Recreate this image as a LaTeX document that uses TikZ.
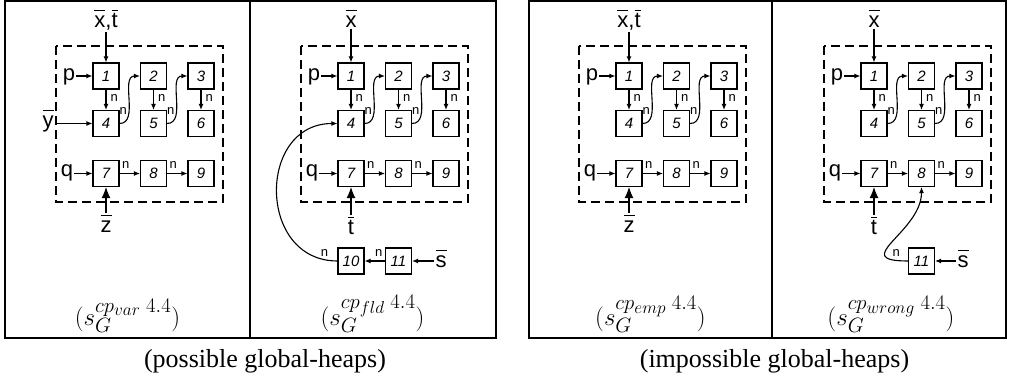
\documentclass[tikz,border=0pt]{standalone}
\usepackage{fontspec}
\newfontfamily\arialf{Liberation Sans}
\newfontfamily\timesf{Liberation Serif}
\usetikzlibrary{arrows.meta}
\DeclareMathSizes{27}{27}{20}{16}

\tikzset{
  cell/.style={draw, line width=1.1pt, minimum size=26pt, inner sep=0pt,
    font=\arialf\fontsize{15}{15}\selectfont\itshape},
  lbl/.style={inner sep=1pt, anchor=base, font=\arialf\fontsize{22}{22}\selectfont},
  nlbl/.style={inner sep=1pt, font=\arialf\fontsize{13}{13}\selectfont},
  ar/.style={-{Latex[length=6pt,width=5pt]}, line width=1.1pt},
  bigar/.style={-{Latex[length=11pt,width=9pt]}, line width=1.1pt},
  region/.style={line width=2.5pt, dash pattern=on 9pt off 5pt},
  panel/.style={line width=2pt},
  pcap/.style={anchor=base, font=\fontsize{27}{32}\selectfont},
  bigcap/.style={anchor=base, font=\timesf\fontsize{26}{30}\selectfont},
}
\newcommand\ovl[1]{\leavevmode\vbox{\hrule height 1.6pt\kern 2.5pt\hbox{#1\vphantom{t}}}}

% the nine cells shared by all four heaps
\newcommand\heapcells[1]{%
  \draw[region] (56,46) rectangle (223,202);
  \node[cell] (#1c1) at (106,76) {1};
  \node[cell] (#1c2) at (153.5,76) {2};
  \node[cell] (#1c3) at (201,76) {3};
  \node[cell] (#1c4) at (106,123.5) {4};
  \node[cell] (#1c5) at (153.5,123.5) {5};
  \node[cell] (#1c6) at (201,123.5) {6};
  \node[cell] (#1c7) at (106,173.5) {7};
  \node[cell] (#1c8) at (153.5,173.5) {8};
  \node[cell] (#1c9) at (201,173.5) {9};
  \node[lbl] (#1p) at (69,81) {p};
  \node[lbl] (#1q) at (67,177) {q};
  \draw[ar] (#1p.east |- #1c1) -- (#1c1);
  \draw[ar] (#1q.east |- #1c7) -- (#1c7);
  \draw[ar] (#1c1) -- node[nlbl, right=3pt, pos=0.4]{n} (#1c4);
  \draw[ar] (#1c2) -- node[nlbl, right=3pt, pos=0.4]{n} (#1c5);
  \draw[ar] (#1c3) -- node[nlbl, right=3pt, pos=0.4]{n} (#1c6);
  \draw[ar] (#1c4.east) to[out=0,in=180] node[nlbl, pos=0.25, above left]{n} (#1c2.west);
  \draw[ar] (#1c5.east) to[out=0,in=180] node[nlbl, pos=0.25, above left]{n} (#1c3.west);
  \draw[ar] (#1c7) -- node[nlbl, above=3pt, pos=0.3]{n} (#1c8);
  \draw[ar] (#1c8) -- node[nlbl, above=3pt, pos=0.3]{n} (#1c9);
}

\begin{document}
\begin{tikzpicture}[x=1pt, y=-1pt]
  \useasboundingbox (0,0) rectangle (1009,379);

  \draw[panel] (5,1.5) rectangle (495.5,338);
  \draw[panel] (250,1.5) -- (250,338);
  \draw[panel] (529,1.5) rectangle (1006,338);
  \draw[panel] (772,1.5) -- (772,338);

  \begin{scope}
    \heapcells{a}
    \node[lbl] (axt) at (106,28) {\ovl{x},\ovl{t}};
    \draw[ar] (axt) -- (ac1);
    \node[lbl] (ay) at (48,128) {\ovl{y}};
    \draw[ar] (ay.east |- ac4) -- (ac4);
    \node[lbl] (az) at (106,233) {\ovl{z}};
    \draw[bigar] (az) -- (ac7);
    \node[pcap] (acap) at (127.5,325) {$(s_G^{cp_{var}\;4.4})$};
  \end{scope}

  \begin{scope}[xshift=245pt]
    \heapcells{b}
    \node[lbl] (bx) at (106,28) {\ovl{x}};
    \draw[ar] (bx) -- (bc1);
    \node[lbl] (bt) at (106,235) {\ovl{t}};
    \draw[bigar] (bt) -- (bc7);
    \node[cell] (bc10) at (106,261) {10};
    \node[cell] (bc11) at (153.5,261) {11};
    \node[lbl] (bs) at (196,268) {\ovl{s}};
    \draw[ar] (bs.west |- bc11) -- (bc11);
    \draw[ar] (bc11) -- node[nlbl, above=3pt, pos=0.3]{n} (bc10);
    \draw[ar] (bc10.west) to[out=180,in=180,looseness=1.5]
      node[nlbl, pos=0.02, above left=3pt]{n} (bc4.west);
    \node[pcap] (bcap) at (127.5,325) {$(s_G^{cp_{fld}\;4.4})$};
  \end{scope}

  \begin{scope}[xshift=523pt]
    \heapcells{c}
    \node[lbl] (cxt) at (106,28) {\ovl{x},\ovl{t}};
    \draw[ar] (cxt) -- (cc1);
    \node[lbl] (cz) at (106,233) {\ovl{z}};
    \draw[bigar] (cz) -- (cc7);
    \node[pcap] (ccap) at (127.5,325) {$(s_G^{cp_{emp}\;4.4})$};
  \end{scope}

  \begin{scope}[xshift=768pt]
    \heapcells{d}
    \node[lbl] (dx) at (106,28) {\ovl{x}};
    \draw[ar] (dx) -- (dc1);
    \node[lbl] (dt) at (106,235) {\ovl{t}};
    \draw[bigar] (dt) -- (dc7);
    \node[cell] (dc11) at (153.5,261) {11};
    \node[lbl] (ds) at (195,268) {\ovl{s}};
    \draw[ar] (ds.west |- dc11) -- (dc11);
    \draw[ar] (dc11.west) .. controls +(-60,0) and +(0,45) ..
      node[nlbl, pos=0.02, above left=3pt]{n} (dc8.south);
    \node[pcap] (dcap) at (123,325) {$(s_G^{cp_{wrong}\;4.4})$};
  \end{scope}

  \node[bigcap] (poss) at (265,367) {(possible global-heaps)};
  \node[bigcap] (imposs) at (774.5,367) {(impossible global-heaps)};
\end{tikzpicture}
\end{document}
